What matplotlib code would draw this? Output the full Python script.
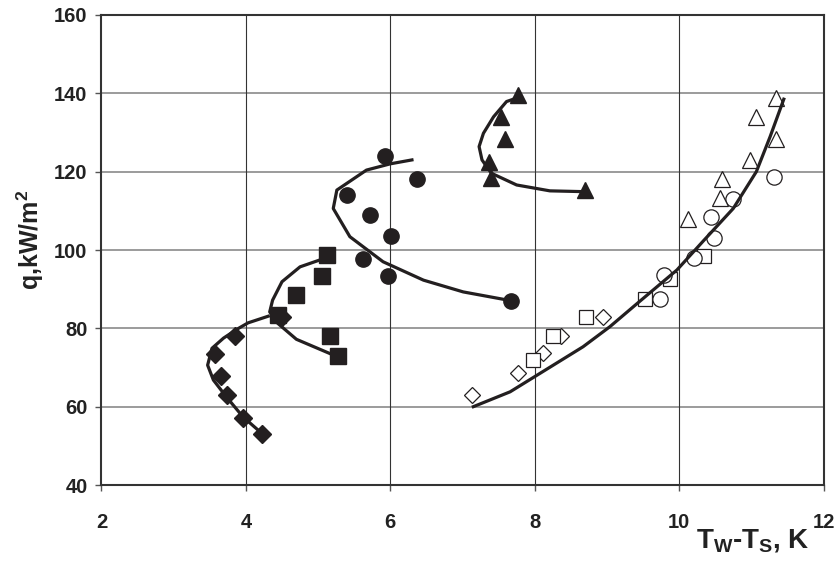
import matplotlib.pyplot as plt
import numpy as np

plt.rcParams['font.family'] = ['Liberation Sans', 'DejaVu Sans']
plt.rcParams['font.weight'] = 'bold'
plt.rcParams['mathtext.fontset'] = 'custom'
plt.rcParams['mathtext.rm'] = 'Liberation Sans:bold'
plt.rcParams['mathtext.bf'] = 'Liberation Sans:bold'
plt.rcParams['mathtext.default'] = 'rm'

# filled markers - measured points
dia_x = [3.85, 3.57, 3.66, 3.74, 3.96, 4.23, 4.50]
dia_q = [78.0, 73.4, 67.9, 63.0, 57.0, 52.9, 83.0]
sq_x = [5.12, 5.06, 4.70, 4.44, 5.16, 5.27]
sq_q = [98.7, 93.4, 88.5, 83.4, 78.0, 72.9]
circ_x = [5.92, 6.37, 5.40, 5.72, 6.01, 5.62, 5.97, 7.67]
circ_q = [124.0, 118.1, 114.0, 109.0, 103.6, 97.7, 93.4, 86.9]
tri_x = [7.77, 7.54, 7.59, 7.37, 7.40, 8.70]
tri_q = [139.6, 133.9, 128.3, 122.5, 118.3, 115.3]

# open markers
odia_x = [7.13, 7.77, 8.12, 8.37, 8.94]
odia_q = [63.0, 68.5, 73.8, 78.0, 83.0]
osq_x = [7.98, 8.26, 8.71, 9.53, 9.88, 10.34]
osq_q = [71.9, 78.0, 82.8, 87.4, 92.5, 98.5]
ocirc_x = [9.74, 9.79, 10.21, 10.49, 10.44, 10.75, 11.32]
ocirc_q = [87.4, 93.6, 98.0, 103.1, 108.3, 112.9, 118.6]
otri_x = [10.13, 10.56, 10.59, 10.98, 11.34, 11.07, 11.34]
otri_q = [107.8, 113.4, 118.0, 123.1, 128.3, 133.9, 138.7]

# fitted curves
c_dia_x = [4.31, 4.03, 3.87, 3.69, 3.53, 3.47, 3.55, 3.73, 3.96, 4.22]
c_dia_q = [83.1, 81.4, 79.7, 77.5, 74.9, 70.6, 66.8, 62.5, 57.4, 53.2]
c_sq_x = [5.00, 4.75, 4.50, 4.37, 4.33, 4.44, 4.70, 5.21]
c_sq_q = [97.3, 95.7, 91.9, 87.2, 84.2, 81.3, 77.2, 73.2]
c_circ_x = [6.30, 6.00, 5.67, 5.26, 5.21, 5.44, 5.90, 6.46, 7.01, 7.63]
c_circ_q = [123.0, 122.0, 120.4, 115.3, 110.6, 103.4, 97.0, 92.3, 89.3, 87.2]
c_tri_x = [7.80, 7.61, 7.43, 7.29, 7.23, 7.27, 7.40, 7.75, 8.21, 8.67]
c_tri_q = [139.1, 137.9, 134.0, 129.8, 126.4, 123.0, 119.6, 116.6, 115.1, 114.9]
c_open_x = [7.15, 7.66, 8.67, 9.04, 9.41, 9.97, 10.34, 10.75, 11.07, 11.26, 11.45]
c_open_q = [60.0, 63.8, 75.3, 80.4, 86.2, 94.9, 102.4, 110.6, 120.0, 128.9, 138.5]

ink = '#231f20'

fig = plt.figure(figsize=(8.38, 5.63), dpi=100)
ax = fig.add_axes([0.1211, 0.1385, 0.8616, 0.8349])

# grid
for yv in range(60, 160, 20):
    ax.axhline(yv, color='#8a8a8a', lw=1.2, zorder=0)
for xv in range(4, 12, 2):
    ax.axvline(xv, color='#333333', lw=0.8, zorder=0)

# filled series
ax.plot(dia_x, dia_q, 'D', ms=9.5, color=ink, zorder=3)
ax.plot(sq_x, sq_q, 's', ms=11, color=ink, zorder=3)
ax.plot(circ_x, circ_q, 'o', ms=11, color=ink, zorder=3)
ax.plot(tri_x, tri_q, '^', ms=11, color=ink, zorder=3)

# open series
ax.plot(odia_x, odia_q, 'D', ms=8.5, mfc='white', mec=ink, mew=0.9, zorder=3)
ax.plot(osq_x, osq_q, 's', ms=10.5, mfc='white', mec=ink, mew=0.9, zorder=3)
ax.plot(ocirc_x, ocirc_q, 'o', ms=11, mfc='white', mec=ink, mew=0.9, zorder=3)
ax.plot(otri_x, otri_q, '^', ms=11, mfc='white', mec=ink, mew=0.9, zorder=3)

# curves
for cx, cq in [(c_dia_x, c_dia_q), (c_sq_x, c_sq_q), (c_circ_x, c_circ_q),
               (c_tri_x, c_tri_q), (c_open_x, c_open_q)]:
    ax.plot(cx, cq, '-', color=ink, lw=2.3, zorder=4)

ax.set_xlim(2, 12)
ax.set_ylim(40, 160)
ax.set_xticks(np.arange(2, 13, 2))
ax.set_yticks(np.arange(40, 161, 20))
for s in ax.spines.values():
    s.set_color('#333333')
    s.set_linewidth(1.5)
ax.tick_params(axis='x', direction='out', length=4, width=1, color='#555555',
               pad=16, labelsize=14.5)
ax.tick_params(axis='y', direction='out', length=4, width=1, color='#555555',
               pad=6, labelsize=14.5)
for lab in ax.get_xticklabels() + ax.get_yticklabels():
    lab.set_fontweight('bold')
    lab.set_color('#222222')

fig.text(0.036, 0.574, r'q,kW/m$^2$', rotation=90, ha='center', va='center',
         fontsize=18, fontweight='bold', color='#222222')
fig.text(0.898, 0.027, r'T$_{\mathrm{W}}$-T$_{\mathrm{S}}$, K', ha='center',
         va='baseline', fontsize=20, fontweight='bold', color='#222222')

fig.savefig('out.png', dpi=100)
